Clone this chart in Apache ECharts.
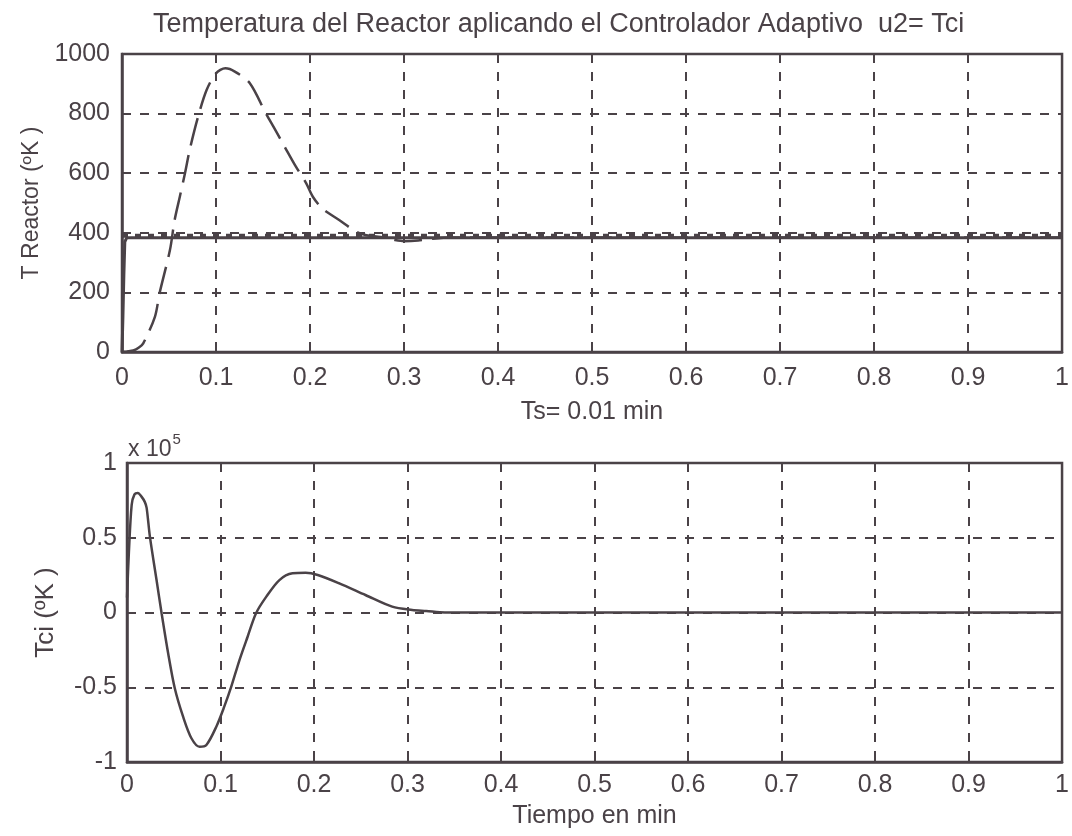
<!DOCTYPE html>
<html>
<head>
<meta charset="utf-8">
<script src="https://cdn.jsdelivr.net/npm/echarts@6/dist/echarts.min.js"></script>
<style>
html,body{margin:0;padding:0;background:#fff;}
#chart{width:1072px;height:836px;}
</style>
</head>
<body>
<div id="chart"></div>
<script>
// ---- data ----
var xTicks = [0, 0.1, 0.2, 0.3, 0.4, 0.5, 0.6, 0.7, 0.8, 0.9, 1];
var topYTicks = [0, 200, 400, 600, 800, 1000];
var botYTicks = [-1, -0.5, 0, 0.5, 1];

// Reactor temperature (dash line)
var tempT = [0, 0.005, 0.012, 0.018, 0.0226, 0.035, 0.040, 0.051, 0.056, 0.0615, 0.067, 0.072, 0.081, 0.090, 0.100, 0.110, 0.120, 0.136, 0.153, 0.162, 0.173, 0.185, 0.196, 0.203, 0.213, 0.231, 0.249, 0.26, 0.275, 0.29, 0.30, 0.315, 0.33, 0.35, 1];
var tempV = [0, 2, 5, 15, 29, 118, 198, 342, 443, 521, 600, 678, 790, 879, 935, 952, 941, 902, 801, 751, 689, 622, 566, 521, 482, 443, 404, 392, 386, 376, 372, 374, 380, 384, 384];

// solid line
var solidT = [0, 0.001, 0.002, 0.003, 0.005, 1];
var solidV = [0, 120, 260, 370, 383, 383];

// dotted reference
var refT = [0, 1];
var refV = [390, 390];

// Tci (x 10^5)
var tciT = [0, 0.002, 0.005, 0.008, 0.0115, 0.0155, 0.019, 0.021, 0.0245, 0.0316, 0.037, 0.044, 0.0511, 0.060, 0.0689, 0.0777, 0.0849, 0.0955, 0.104, 0.1115, 0.1203, 0.129, 0.138, 0.149, 0.163, 0.177, 0.191, 0.204, 0.227, 0.255, 0.2836, 0.305, 0.32, 0.34, 1];
var tciV = [0.1, 0.4, 0.72, 0.79, 0.8, 0.775, 0.74, 0.7, 0.507, 0.217, -0.005, -0.273, -0.507, -0.697, -0.841, -0.898, -0.886, -0.764, -0.63, -0.496, -0.318, -0.162, -0.005, 0.106, 0.217, 0.262, 0.266, 0.251, 0.195, 0.117, 0.039, 0.017, 0.01, 0, 0];

function pairs(a, b) { return a.map(function (v, i) { return [v, b[i]]; }); }

var C = '#4a4247';
var FONT = 'Liberation Sans, Arial, sans-serif';

var chart = echarts.init(document.getElementById('chart'), null, {renderer: 'canvas'});

function xAxisCfg(gi, name, gap, lblMargin) {
  return {
    type: 'value', gridIndex: gi, min: 0, max: 1, interval: 0.1,
    name: name, nameLocation: 'middle', nameGap: gap,
    nameTextStyle: {color: C, fontSize: 25, fontFamily: FONT},
    axisLine: {show: true, onZero: false, lineStyle: {color: C, width: 2.5}},
    axisTick: {show: true, inside: true, length: 6, lineStyle: {color: C, width: 2}},
    axisLabel: {color: C, fontSize: 25, fontFamily: FONT, margin: lblMargin,
      formatter: function (v) { return String(Math.round(v * 10) / 10); }},
    splitLine: {show: true, lineStyle: {color: C, width: 2, type: [9, 9]}}
  };
}
function yAxisCfg(gi, name, gap, mn, mx, iv, lblMargin, nameSize) {
  return {
    type: 'value', gridIndex: gi, min: mn, max: mx, interval: iv,
    name: name, nameLocation: 'middle', nameGap: gap,
    nameTextStyle: {color: C, fontSize: nameSize, fontFamily: FONT},
    axisLine: {show: true, onZero: false, lineStyle: {color: C, width: 2.5}},
    axisTick: {show: true, inside: true, length: 6, lineStyle: {color: C, width: 2}},
    axisLabel: {color: C, fontSize: 25, fontFamily: FONT, margin: lblMargin,
      formatter: function (v) { return String(v); }},
    splitLine: {show: true, lineStyle: {color: C, width: 2, type: [9, 9]}}
  };
}

var option = {
  backgroundColor: '#ffffff',
  animation: false,
  title: {
    text: 'Temperatura del Reactor aplicando el Controlador Adaptivo  u2= Tci',
    left: 148, top: 6,
    textStyle: {color: C, fontSize: 27, fontWeight: 'normal', fontFamily: FONT}
  },
  grid: [
    {left: 122, right: 7, top: 54, height: 298, show: true, borderColor: C, borderWidth: 2.5, backgroundColor: 'transparent'},
    {left: 127, right: 6, top: 463, height: 299, show: true, borderColor: C, borderWidth: 2.5, backgroundColor: 'transparent'}
  ],
  xAxis: [
    xAxisCfg(0, 'Ts= 0.01 min', 48, 14),
    xAxisCfg(1, 'Tiempo en min', 42, 11)
  ],
  yAxis: [
    yAxisCfg(0, 'T Reactor (ºK )', 72, 0, 1000, 200, 12, 23),
    yAxisCfg(1, 'Tci (ºK )', 68, -1, 1, 0.5, 10, 26)
  ],
  graphic: [
    {type: 'text', left: 128, top: 432,
     style: {text: '{a|x 10}{b|5}', rich: {
       a: {fontSize: 23, fontFamily: FONT, fill: C, verticalAlign: 'bottom'},
       b: {fontSize: 15, fontFamily: FONT, fill: C, verticalAlign: 'top', padding: [0, 0, 14, 1]}
     }}}
  ],
  series: [
    {type: 'line', xAxisIndex: 0, yAxisIndex: 0, data: pairs(refT, refV), showSymbol: false,
     lineStyle: {color: C, width: 4, type: [6, 7]}, clip: true},
    {type: 'line', xAxisIndex: 0, yAxisIndex: 0, data: pairs(solidT, solidV), showSymbol: false,
     lineStyle: {color: C, width: 3}, clip: true},
    {type: 'line', xAxisIndex: 0, yAxisIndex: 0, data: pairs(tempT, tempV), showSymbol: false,
     smooth: 0.3, lineStyle: {color: C, width: 2.5, type: [28, 10]}, clip: true},
    {type: 'line', xAxisIndex: 1, yAxisIndex: 1, data: pairs(tciT, tciV), showSymbol: false,
     smooth: 0.3, lineStyle: {color: C, width: 2.5}, clip: true}
  ]
};
chart.setOption(option);
</script>
</body>
</html>
